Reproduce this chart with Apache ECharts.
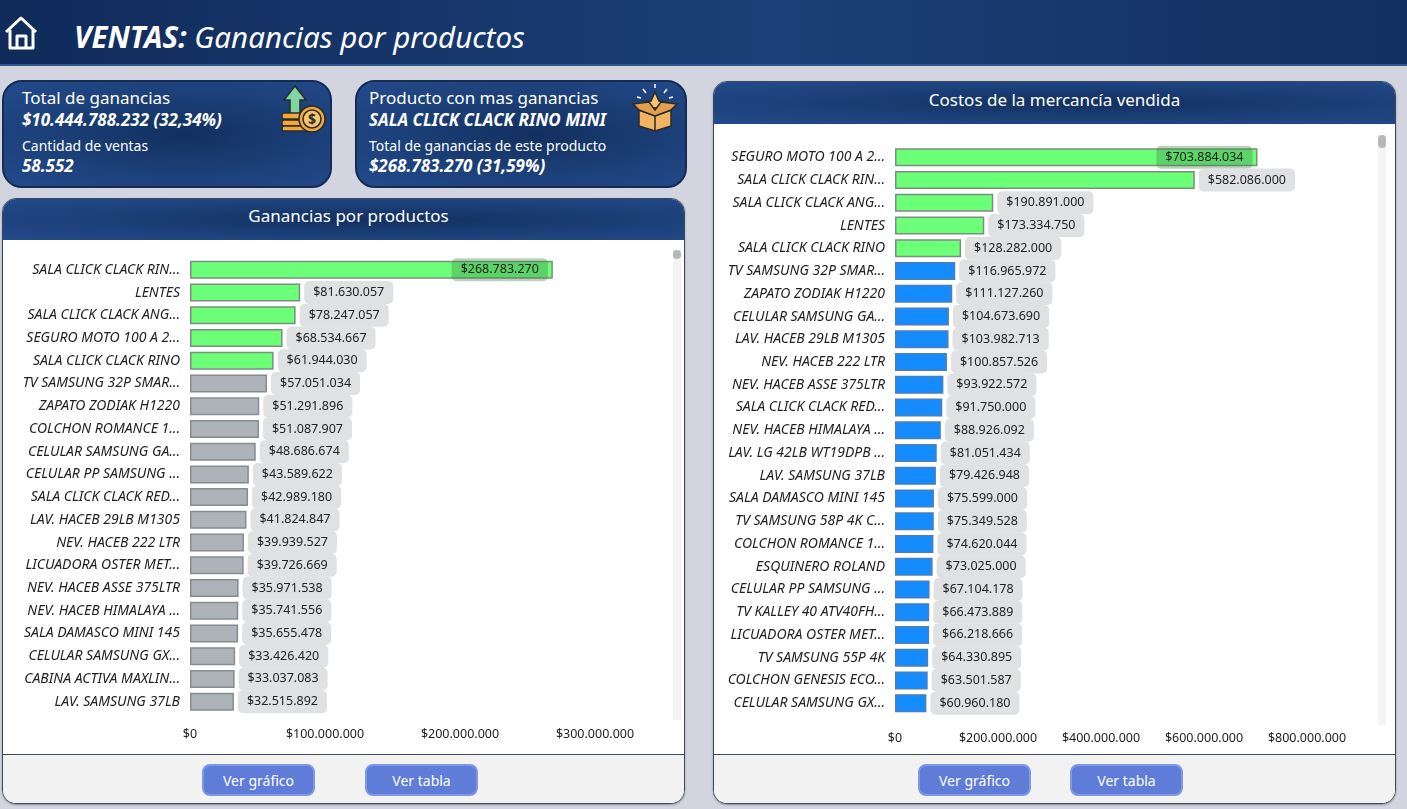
<!DOCTYPE html>
<html>
  <head>
    <meta charset="utf-8" />
    <script src="https://cdn.jsdelivr.net/npm/echarts@6/dist/echarts.min.js"></script>
    <style>
      html, body { margin: 0; padding: 0; }
      body { width: 1407px; height: 809px; background: #d2d4e0; position: relative; overflow: hidden; font-family: "Noto Sans", sans-serif; color: #fff; }
      .abs { position: absolute; }
      .blue { background: radial-gradient(ellipse at 55% 50%, #12305f 0%, #1c4079 55%, #234a8c 100%); }
      #topbar { left: 0; top: 0; width: 1407px; height: 66px; background: linear-gradient(90deg, #102b5a 0%, #1b3f78 55%, #12305f 100%); border-bottom: 2px solid #2f5590; box-sizing: border-box; }
      #pagetitle { left: 74px; top: 17px; font-size: 29.5px; font-style: italic; line-height: 40px; white-space: nowrap; }
      #pagetitle b { font-weight: 700; }
      .card { border: 2px solid #152c52; border-radius: 20px; box-sizing: border-box; height: 108px; top: 80px; }
      .txt { white-space: nowrap; position: absolute; }
      .panel { border: 1px solid #3d4a5c; border-radius: 14px; overflow: hidden; box-sizing: border-box; background: #fff; box-shadow: 0 1px 2px #8b8e9c; }
      .phead { position: absolute; left: 0; top: 0; right: 0; text-align: center; font-size: 17px; }
      .pfoot { position: absolute; left: 0; right: 0; bottom: 0; height: 49px; background: #f2f2f2; border-top: 1px solid #3d4a5c; box-sizing: border-box; }
      .btn { width: 113px; height: 32px; top: 764px; background: #5f7cd8; border: 2px solid #7f97e4; border-radius: 8px; box-sizing: border-box; text-align: center; font-size: 14px; line-height: 29px; }
      .track { width: 8px; background: #f3f3f3; }
      .thumb { width: 8px; height: 13px; background: #b5b7bb; border-radius: 4px; }
      .chart { position: absolute; }
    </style>
  </head>
  <body>
    <div class="abs" id="topbar"></div>
    <svg class="abs" style="left:4px;top:15px" width="36" height="36" viewBox="0 0 36 36" fill="none" stroke="#fff" stroke-width="3" stroke-linejoin="round">
      <path d="M2 17 L17 3 L32 17" /><path d="M6 15 V33 H29 V15" /><path d="M13 33 V21 H22 V33" />
    </svg>
    <div class="abs" id="pagetitle"><b>VENTAS:</b> Ganancias por productos</div>

    <div class="abs card blue" style="left:2px;width:330px">
      <div class="txt" style="left:18px;top:4px;font-size:17px">Total de ganancias</div>
      <div class="txt" style="left:18px;top:26px;font-size:17px;font-weight:700;font-style:italic">$10.444.788.232 (32,34%)</div>
      <div class="txt" style="left:18px;top:54px;font-size:14px">Cantidad de ventas</div>
      <div class="txt" style="left:18px;top:72px;font-size:17px;font-weight:700;font-style:italic">58.552</div>
      <svg class="txt" style="left:277px;top:3px" width="48" height="48" viewBox="0 0 48 48" stroke="#2a2a2a" stroke-width="1.5">
        <path d="M14 1 L25 15 H19 V30 H9 V15 H3 Z" fill="#7fd6a0" />
        <rect x="1" y="28" width="26" height="6" rx="2" fill="#f2a93b" /><rect x="1" y="35" width="26" height="6" rx="2" fill="#f2a93b" /><rect x="1" y="41" width="26" height="5" rx="2" fill="#f2a93b" />
        <circle cx="31" cy="34" r="13" fill="#f2a93b" /><circle cx="31" cy="34" r="9" fill="#f7c56e" />
        <text x="31" y="39" font-size="14" font-weight="700" text-anchor="middle" fill="#2a2a2a" stroke="none">$</text>
      </svg>
    </div>

    <div class="abs card blue" style="left:355px;width:332px">
      <div class="txt" style="left:12px;top:4px;font-size:17px">Producto con mas ganancias</div>
      <div class="txt" style="left:12px;top:26px;font-size:17px;font-weight:700;font-style:italic">SALA CLICK CLACK RINO MINI</div>
      <div class="txt" style="left:12px;top:54px;font-size:14px">Total de ganancias de este producto</div>
      <div class="txt" style="left:12px;top:72px;font-size:17px;font-weight:700;font-style:italic">$268.783.270 (31,59%)</div>
      <svg class="txt" style="left:274px;top:2px" width="48" height="48" viewBox="0 0 48 48" stroke="#2a2a2a" stroke-width="1.5">
        <path d="M24 8 L28 17 L36 18 L30 24 H18 L12 18 L20 17 Z" fill="#f7c56e" />
        <path d="M8 26 L24 32 L40 26 V42 L24 47 L8 42 Z" fill="#f0b563" />
        <path d="M8 26 L2 20 L18 18 L24 26 L30 18 L46 20 L40 26 L24 32 Z" fill="#e2a04e" />
        <path d="M24 32 V47" fill="none" />
        <path d="M24 0 V4 M12 5 L15 9 M36 5 L33 9 M6 13 L10 14 M42 13 L38 14" fill="none" stroke="#fff" />
      </svg>
    </div>

    <div class="abs panel" style="left:2px;top:198px;width:683px;height:606px">
      <div class="phead blue" style="height:41px;line-height:33px;padding-left:10px;box-sizing:border-box">Ganancias por productos</div>
      <div class="pfoot"></div>
    </div>
    <div class="abs track" style="left:673px;top:250px;height:470px"></div>
    <div class="abs thumb" style="left:673px;top:250px;height:9px"></div>
    <div class="chart" id="chartGanancias" style="left:3px;top:240px;width:669px;height:515px"></div>
    <div class="abs btn" style="left:202px">Ver gráfico</div>
    <div class="abs btn" style="left:365px">Ver tabla</div>

    <div class="abs panel" style="left:713px;top:81px;width:683px;height:723px">
      <div class="phead blue" style="height:42px;line-height:35px">Costos de la mercancía vendida</div>
      <div class="pfoot"></div>
    </div>
    <div class="abs track" style="left:1378px;top:135px;height:590px"></div>
    <div class="abs thumb" style="left:1378px;top:135px"></div>
    <div class="chart" id="chartCostos" style="left:714px;top:124px;width:663px;height:631px"></div>
    <div class="abs btn" style="left:918px">Ver gráfico</div>
    <div class="abs btn" style="left:1070px">Ver tabla</div>

    <script type="text/javascript">
      var gananciasNames = [
        "SALA CLICK CLACK RIN...", "LENTES", "SALA CLICK CLACK ANG...", "SEGURO MOTO 100 A 2...", "SALA CLICK CLACK RINO",
        "TV SAMSUNG 32P SMAR...", "ZAPATO ZODIAK H1220", "COLCHON ROMANCE 1...", "CELULAR SAMSUNG GA...", "CELULAR PP SAMSUNG ...",
        "SALA CLICK CLACK RED...", "LAV. HACEB 29LB M1305", "NEV. HACEB 222 LTR", "LICUADORA OSTER MET...", "NEV. HACEB ASSE 375LTR",
        "NEV. HACEB HIMALAYA ...", "SALA DAMASCO MINI 145", "CELULAR SAMSUNG GX...", "CABINA ACTIVA MAXLIN...", "LAV. SAMSUNG 37LB"
      ];
      var gananciasValues = [
        268783270, 81630057, 78247057, 68534667, 61944030,
        57051034, 51291896, 51087907, 48686674, 43589622,
        42989180, 41824847, 39939527, 39726669, 35971538,
        35741556, 35655478, 33426420, 33037083, 32515892
      ];
      var costosNames = [
        "SEGURO MOTO 100 A 2...", "SALA CLICK CLACK RIN...", "SALA CLICK CLACK ANG...", "LENTES", "SALA CLICK CLACK RINO",
        "TV SAMSUNG 32P SMAR...", "ZAPATO ZODIAK H1220", "CELULAR SAMSUNG GA...", "LAV. HACEB 29LB M1305", "NEV. HACEB 222 LTR",
        "NEV. HACEB ASSE 375LTR", "SALA CLICK CLACK RED...", "NEV. HACEB HIMALAYA ...", "LAV. LG 42LB WT19DPB ...", "LAV. SAMSUNG 37LB",
        "SALA DAMASCO MINI 145", "TV SAMSUNG 58P 4K C...", "COLCHON ROMANCE 1...", "ESQUINERO ROLAND", "CELULAR PP SAMSUNG ...",
        "TV KALLEY 40 ATV40FH...", "LICUADORA OSTER MET...", "TV SAMSUNG 55P 4K", "COLCHON GENESIS ECO...", "CELULAR SAMSUNG GX..."
      ];
      var costosValues = [
        703884034, 582086000, 190891000, 173334750, 128282000,
        116965972, 111127260, 104673690, 103982713, 100857526,
        93922572, 91750000, 88926092, 81051434, 79426948,
        75599000, 75349528, 74620044, 73025000, 67104178,
        66473889, 66218666, 64330895, 63501587, 60960180
      ];
      var TOP_COUNT = 5;
      var TEXT_FONT = "Noto Sans";

      function money(v) {
        return "$" + String(v).replace(/\B(?=(\d{3})+$)/g, ".");
      }

      function buildOption(names, values, rest, restBorder, grid, axisMax, axisStep, axisMargin) {
        var data = values.map(function (v, i) {
          var item = {
            value: v,
            itemStyle: {
              color: i < TOP_COUNT ? "#6cff78" : rest,
              borderColor: i < TOP_COUNT ? "#7b8f80" : restBorder,
              borderWidth: 1.5
            }
          };
          // the longest bar has no room for its label outside
          if (i === 0) {
            item.label = { position: "insideRight", distance: 5, backgroundColor: "rgba(60,130,70,0.35)" };
          }
          return item;
        });
        return {
          animation: false,
          grid: grid,
          xAxis: {
            type: "value",
            min: 0,
            max: axisMax,
            interval: axisStep,
            splitLine: { show: false },
            axisLine: { show: false },
            axisTick: { show: false },
            axisLabel: {
              color: "#222",
              fontFamily: TEXT_FONT,
              fontSize: 12.5,
              margin: axisMargin,
              hideOverlap: false,
              showMaxLabel: true,
              formatter: money
            }
          },
          yAxis: {
            type: "category",
            inverse: true,
            data: names,
            axisLine: { show: false },
            axisTick: { show: false },
            axisLabel: {
              color: "#222",
              fontFamily: TEXT_FONT,
              fontStyle: "italic",
              fontSize: 14,
              margin: 10,
              interval: 0
            }
          },
          series: [
            {
              type: "bar",
              data: data,
              barWidth: 18,
              label: {
                show: true,
                position: "right",
                distance: 4,
                color: "#222",
                fontFamily: TEXT_FONT,
                fontSize: 12.5,
                backgroundColor: "#e0e1e3",
                borderRadius: 5,
                padding: [5, 9],
                formatter: function (p) {
                  return money(p.value);
                }
              }
            }
          ]
        };
      }

      var chartGanancias = echarts.init(document.getElementById("chartGanancias"));
      chartGanancias.setOption(
        buildOption(gananciasNames, gananciasValues, "#adb3b9", "#858c92",
          { left: 187, top: 18.5, width: 405, height: 454.5 }, 300000000, 100000000, 15)
      );

      var chartCostos = echarts.init(document.getElementById("chartCostos"));
      chartCostos.setOption(
        buildOption(costosNames, costosValues, "#148cff", "#4a7fb8",
          { left: 181, top: 22, width: 412, height: 568.5 }, 800000000, 200000000, 17)
      );
    </script>
  </body>
</html>
